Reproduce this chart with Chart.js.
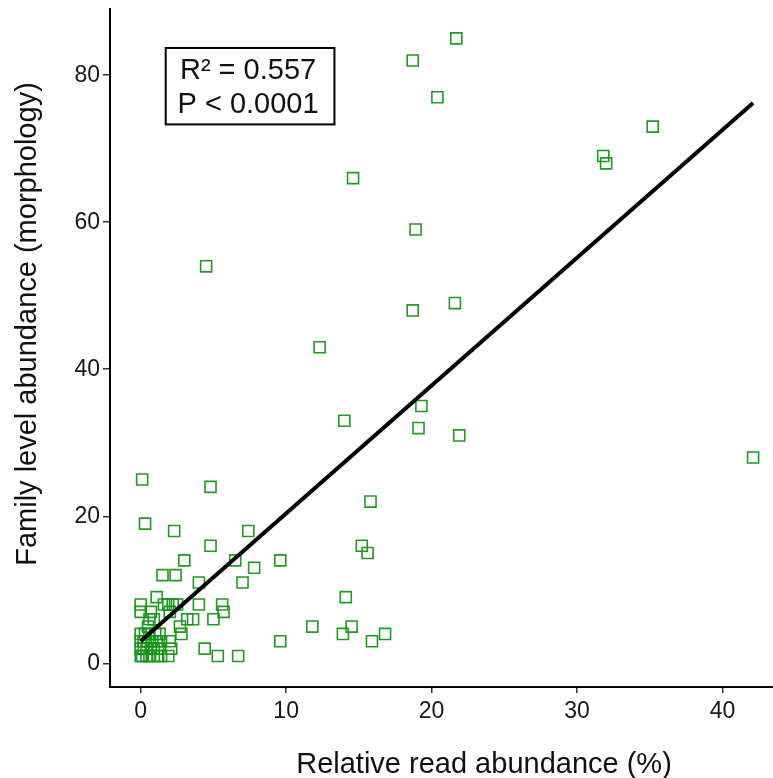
<!DOCTYPE html>
<html>
<head>
<meta charset="utf-8">
<script src="https://cdn.jsdelivr.net/npm/chart.js@4.4.0/dist/chart.umd.min.js"></script>
<style>
  html, body { margin: 0; padding: 0; background: #fff; }
  #wrap { width: 773px; height: 778px; }
</style>
</head>
<body>
<div id="wrap"><canvas id="myChart" width="773" height="778"></canvas></div>
<script>
// relative read abundance (%) for each family
const readAbund = [
  18.7, 21.7, 20.4, 35.2, 31.8, 32.0, 14.6, 18.9, 4.5, 21.6,
  18.7, 12.3, 14.0, 19.3, 19.1, 21.9, 42.1, 0.1, 4.8, 0.3,
  15.8, 2.3, 7.4, 4.8, 15.2, 15.6, 3.0, 6.5, 9.6, 7.8,
  1.5, 2.4, 7.0, 4.0, 14.1, 1.1,
  0.0, 1.6, 1.9, 2.2, 2.5, 4.0, 5.6,
  0.0, 0.7, 2.0, 5.7,
  0.6, 0.9, 3.2, 3.6, 5.0,
  0.5, 2.7, 11.8, 14.5,
  0.0, 0.3, 0.6, 1.0, 1.3, 2.8, 13.9, 16.8,
  0.0, 0.2, 0.5, 0.8, 1.1, 1.4, 2.0, 9.6, 15.9,
  0.0, 0.2, 0.4, 0.7, 0.9, 1.2, 2.1, 4.4,
  0.0, 0.1, 0.4, 0.6, 0.9, 1.2, 1.4, 1.9, 5.3, 6.7
];
// family level abundance (morphology), same order
const morphAbund = [
  82, 85, 77, 73, 69, 68, 66, 59, 54, 49,
  48, 43, 33, 35, 32, 31, 28, 25, 24, 19,
  22, 18, 18, 16, 16, 15, 14, 14, 14, 13,
  12, 12, 11, 11, 9, 9,
  8, 8, 8, 8, 8, 8, 8,
  7, 7, 7, 7,
  6, 6, 6, 6, 6,
  5, 5, 5, 5,
  4, 4, 4, 4, 4, 4, 4, 4,
  3, 3, 3, 3, 3, 3, 3, 3, 3,
  2, 2, 2, 2, 2, 2, 2, 2,
  1, 1, 1, 1, 1, 1, 1, 1, 1, 1
];
// regression line end points
const fitX = [0.0, 42.1];
const fitY = [3.0, 76.2];

const xTicks = [0, 10, 20, 30, 40];
const yTicks = [0, 20, 40, 60, 80];
const statLines = ['R\u00b2 = 0.557', 'P < 0.0001'];
const xTitle = 'Relative read abundance (%)';
const yTitle = 'Family level abundance (morphology)';

const FONT = "'Liberation Sans', Arial, sans-serif";

// draws the stats box and the two axis titles
const extras = {
  id: 'extras',
  afterDraw(chart) {
    const ctx = chart.ctx;
    const xs = chart.scales.x, ys = chart.scales.y;
    ctx.save();
    // stats box, anchored in data units
    const bl = xs.getPixelForValue(1.72), br = xs.getPixelForValue(13.32);
    const bt = ys.getPixelForValue(83.7), bb = ys.getPixelForValue(73.3);
    ctx.strokeStyle = '#000';
    ctx.lineWidth = 2;
    ctx.strokeRect(bl, bt, br - bl, bb - bt);
    ctx.fillStyle = '#111';
    ctx.font = '29px ' + FONT;
    ctx.textAlign = 'center';
    ctx.textBaseline = 'alphabetic';
    const cx = (bl + br) / 2 - 2;
    ctx.fillText(statLines[0], cx, bt + 30.6);
    ctx.fillText(statLines[1], cx, bt + 65);
    // axis titles
    ctx.fillText(xTitle, 484, 773);
    ctx.translate(36, 324);
    ctx.rotate(-Math.PI / 2);
    ctx.fillText(yTitle, 0, 0);
    ctx.restore();
  }
};

const points = readAbund.map((x, i) => ({x: x, y: morphAbund[i]}));
const fitLine = fitX.map((x, i) => ({x: x, y: fitY[i]}));

const ctx = document.getElementById('myChart').getContext('2d');
new Chart(ctx, {
  type: 'scatter',
  data: {
    datasets: [
      {
        type: 'line',
        data: fitLine,
        borderColor: '#000',
        borderWidth: 4,
        pointRadius: 0,
        fill: false
      },
      {
        data: points,
        pointStyle: 'rect',
        pointRadius: 7.8,
        pointBorderWidth: 1.6,
        borderColor: 'rgba(22,148,22,0.95)',
        backgroundColor: 'rgba(0,0,0,0)'
      }
    ]
  },
  options: {
    responsive: false,
    animation: false,
    layout: { autoPadding: false, padding: { top: 9, left: 0, right: 0, bottom: 0 } },
    plugins: {
      legend: { display: false },
      tooltip: { enabled: false }
    },
    scales: {
      x: {
        type: 'linear',
        min: -2.11,
        max: 43.47,
        afterBuildTicks: s => { s.ticks = xTicks.map(v => ({value: v})); },
        afterFit: s => { s.height = 91; s.paddingLeft = 0; s.paddingRight = 0; },
        grid: { drawOnChartArea: false, drawTicks: true, tickLength: 6, color: '#333', lineWidth: 1.5 },
        border: { display: true, color: '#000', width: 2 },
        ticks: { color: '#161616', font: { size: 23, family: FONT }, padding: 5, maxRotation: 0 }
      },
      y: {
        type: 'linear',
        min: -3.22,
        max: 89.0,
        afterBuildTicks: s => { s.ticks = yTicks.map(v => ({value: v})); },
        afterFit: s => { s.width = 110; s.paddingTop = 0; s.paddingBottom = 0; },
        grid: { drawOnChartArea: false, drawTicks: true, tickLength: 7, color: '#333', lineWidth: 1.5 },
        border: { display: true, color: '#000', width: 2 },
        ticks: { color: '#161616', font: { size: 23, family: FONT }, padding: 3 }
      }
    }
  },
  plugins: [extras]
});
</script>
</body>
</html>
